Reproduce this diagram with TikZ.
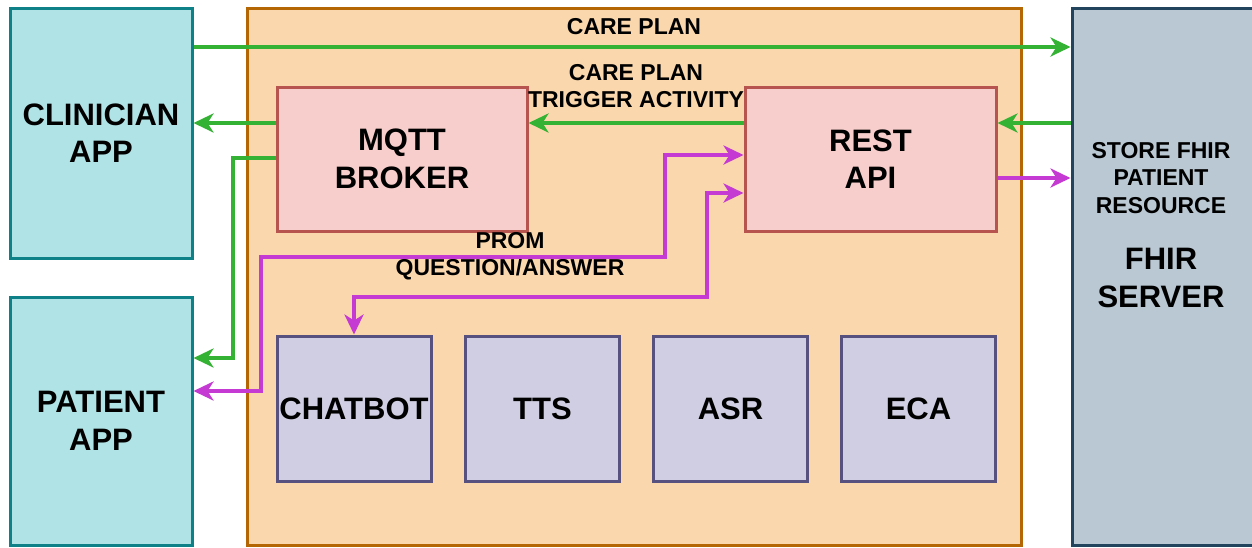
\documentclass[tikz,border=0pt]{standalone}
\usepackage{fontspec}
\setmainfont{Liberation Sans}
\usetikzlibrary{arrows.meta}
\definecolor{clinfill}{HTML}{B0E3E6}
\definecolor{clindraw}{HTML}{0E8088}
\definecolor{contfill}{HTML}{FAD7AC}
\definecolor{contdraw}{HTML}{B46504}
\definecolor{fhirfill}{HTML}{BAC8D3}
\definecolor{fhirdraw}{HTML}{23445D}
\definecolor{redfill}{HTML}{F8CECC}
\definecolor{reddraw}{HTML}{B85450}
\definecolor{purfill}{HTML}{D0CEE2}
\definecolor{purdraw}{HTML}{56517E}
\definecolor{garr}{HTML}{33B233}
\definecolor{marr}{HTML}{C43AD3}
\newcommand\bigtxt{\fontsize{31}{37.5}\selectfont\bfseries}
\newcommand\smalltxt{\fontsize{23}{27.5}\selectfont\bfseries}
\tikzset{mytip/.tip={Stealth[length=20pt,width=19pt,inset=6pt]}}
\begin{document}
\begin{tikzpicture}[x=1pt,y=-1pt,
  box/.style={draw, line width=3pt, font=\bigtxt, align=center, inner sep=0pt},
  clinbox/.style={box, fill=clinfill, draw=clindraw, minimum width=182pt},
  redbox/.style={box, fill=redfill, draw=reddraw, minimum width=250pt, minimum height=144pt},
  purbox/.style={box, fill=purfill, draw=purdraw, minimum width=154pt, minimum height=145pt},
  lbl/.style={font=\smalltxt, align=center, inner sep=0pt},
  garrow/.style={draw=garr, line width=4.5pt, -{mytip}},
  marrow/.style={draw=marr, line width=4.5pt, -{mytip}},
  mdarrow/.style={draw=marr, line width=4.5pt, {mytip}-{mytip}}]
\useasboundingbox (0,0) rectangle (1252,547);
\node[clinbox, minimum height=250pt] (clin) at (101,133) {CLINICIAN\\APP};
\node[clinbox, minimum height=248pt] (pat) at (101,421) {PATIENT\\APP};
\node[box, fill=contfill, draw=contdraw, minimum width=774pt, minimum height=537pt] (cont) at (634,276.5) {};
\node[box, fill=fhirfill, draw=fhirdraw, minimum width=190pt, minimum height=537pt] (fhir) at (1167,276.5) {};
\node[lbl] (store) at (1161,178) {STORE FHIR\\PATIENT\\RESOURCE};
\node[font=\bigtxt, align=center, inner sep=0pt] (fhirlbl) at (1161,278) {FHIR\\SERVER};
\node[redbox] (mqtt) at (402,159) {MQTT\\BROKER};
\node[redbox, minimum width=251pt] (rest) at (870.5,159) {REST\\API};
\node[purbox] (chat) at (354,408.5) {CHATBOT};
\node[purbox] (tts) at (542.5,408.5) {TTS};
\node[purbox] (asr) at (730.5,408.5) {ASR};
\node[purbox] (eca) at (918.5,408.5) {ECA};
\node[lbl] (lcare) at (634,27) {CARE PLAN};
\node[lbl] (ltrig) at (636,86) {CARE PLAN\\TRIGGER ACTIVITY};
\node[lbl] (lprom) at (510,256) {PROM\\QUESTION/ANSWER};
\draw[garrow] (clin.east |- 0,47) -- (fhir.west |- 0,47);
\draw[garrow] (rest.west |- 0,123) -- (mqtt.east |- 0,123);
\draw[garrow] (mqtt.west |- 0,123) -- (clin.east |- 0,123);
\draw[garrow] (mqtt.west |- 0,158) -| (233,358) -- (pat.east |- 0,358);
\draw[garrow] (fhir.west |- 0,123) -- (rest.east |- 0,123);
\draw[marrow] (rest.east |- 0,178) -- (fhir.west |- 0,178);
\draw[mdarrow] (pat.east |- 0,391) -| (261,257) -| (665,155) -- (rest.west |- 0,155);
\draw[mdarrow] (chat.north) |- (707,297) |- (rest.west |- 0,193);
\end{tikzpicture}
\end{document}
